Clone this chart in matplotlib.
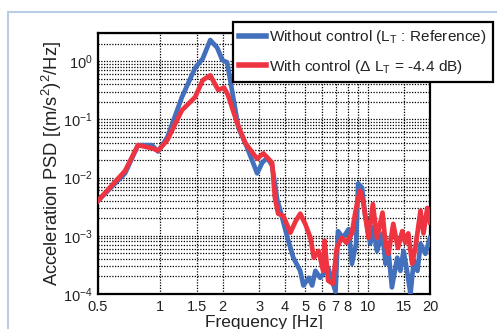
import matplotlib
matplotlib.use("Agg")
import matplotlib.pyplot as plt
from matplotlib.patches import Rectangle
from matplotlib.ticker import LogLocator, NullFormatter

plt.rcParams['font.family'] = ['Liberation Sans', 'DejaVu Sans']
plt.rcParams['mathtext.fontset'] = 'custom'
plt.rcParams['mathtext.rm'] = 'Liberation Sans'
plt.rcParams['mathtext.it'] = 'Liberation Sans:italic'
plt.rcParams['mathtext.bf'] = 'Liberation Sans:bold'

freq_without = [0.5, 0.675, 0.78, 0.91, 0.975, 1.08, 1.27, 1.47, 1.6, 1.74, 1.88, 1.99, 2.1,
                2.38, 2.62, 2.93, 3.1, 3.28, 3.46, 3.67, 3.76, 4.08, 4.38, 4.73, 4.9, 5.2,
                5.4, 5.6, 5.9, 6.45, 7.0, 7.2, 7.6, 8.1, 8.4, 8.8, 9.0, 9.4, 9.7, 10.3,
                10.6, 11.1, 11.8, 12.2, 12.6, 13.1, 13.9, 14.4, 14.9, 15.5, 16.1, 16.7,
                17.4, 18.0, 19.0, 20.0]
psd_without = [4.0e-3, 1.18e-2, 3.6e-2, 3.6e-2, 2.8e-2, 4.9e-2, 0.24, 0.76, 1.1, 2.3, 1.7, 1.04, 0.95,
               7.2e-2, 3.3e-2, 1.18e-2, 1.8e-2, 2.2e-2, 1.6e-2, 4.0e-3, 3.0e-3, 1.0e-3, 4.2e-4, 2.5e-4, 1.4e-4, 1.9e-4,
               1.4e-4, 2.5e-4, 1.9e-4, 2.8e-4, 1.1e-4, 1.2e-3, 9.2e-4, 1.3e-3, 3.3e-4, 7.3e-4, 7.9e-3, 6.7e-3, 2.4e-3, 7.3e-4,
               1.4e-3, 5.5e-4, 1.1e-3, 3.3e-4, 5.5e-4, 1.3e-4, 4.2e-4, 2.5e-4, 5.5e-4, 2.5e-4, 1.0e-4, 3.7e-4,
               2.5e-4, 7.3e-4, 4.9e-4, 9.2e-4]

freq_with = [0.5, 0.675, 0.78, 0.91, 0.975, 1.08, 1.27, 1.47, 1.6, 1.74, 1.9, 2.03, 2.12,
             2.35, 2.57, 2.93, 3.14, 3.46, 3.57, 3.7, 3.92, 4.24, 4.5, 4.73, 5.0, 5.3,
             5.5, 5.8, 6.1, 6.2, 6.45, 6.8, 7.1, 7.5, 7.9, 8.4, 8.7, 9.0, 9.2, 9.5,
             10.1, 10.6, 11.1, 11.8, 12.2, 12.6, 13.3, 14.0, 14.7, 15.2, 15.7, 16.4,
             17.0, 18.0, 18.6, 19.4, 20.0]
psd_with = [4.0e-3, 1.3e-2, 3.6e-2, 3.2e-2, 2.9e-2, 4.4e-2, 0.143, 0.24, 0.47, 0.57, 0.32, 0.35, 0.26,
            8.5e-2, 3.9e-2, 2.1e-2, 2.6e-2, 1.8e-2, 4.5e-3, 2.4e-3, 2.2e-3, 1.13e-3, 1.8e-3, 2.4e-3, 1.6e-3, 9.2e-4,
            4.2e-4, 5.5e-4, 2.5e-4, 8.2e-4, 1.7e-4, 1.5e-4, 6.2e-4, 9.2e-4, 7.6e-4, 1.1e-3, 2.4e-3, 4.5e-3, 5.9e-3, 4.0e-3,
            9.2e-4, 3.5e-3, 9.2e-4, 2.5e-3, 7.3e-4, 4.9e-4, 1.6e-3, 6.2e-4, 1.2e-3, 7.6e-4, 1.1e-3, 3.3e-4,
            6.2e-4, 2.7e-3, 1.1e-3, 3.0e-3, 1.7e-3]

x_ticks = [0.5, 1, 1.5, 2, 3, 4, 5, 6, 7, 8, 9, 10, 15, 20]
x_tick_labels = ['0.5', '1', '1.5', '2', '3', '4', '5', '6', '7', '8', '', '10', '15', '20']

label_without = 'Without control (L$_\\mathrm{T}$ : Reference)'
label_with = 'With control (\u0394 L$_\\mathrm{T}$ = -4.4 dB)'

W, H = 497, 329
fig = plt.figure(figsize=(W / 100, H / 100), dpi=100)
fig.patch.set_facecolor('white')

# outer light-blue frame
fig.patches.append(Rectangle((8 / W, -0.1), 1.2, 1 - 12 / H + 0.1, transform=fig.transFigure,
                             fill=False, edgecolor='#b9cde4', linewidth=1.5))

ax = fig.add_axes([98 / W, 1 - 294 / H, (430 - 98) / W, (294 - 33) / H])
ax.set_xscale('log')
ax.set_yscale('log')
ax.set_xlim(0.5, 20)
ax.set_ylim(1e-4, 3.04)

blue = '#4270bd'
red = '#ee3440'
ax.plot(freq_without, psd_without, color=blue, lw=3.4, solid_joinstyle='round', label=label_without, zorder=3)
ax.plot(freq_with, psd_with, color=red, lw=3.4, solid_joinstyle='round', label=label_with, zorder=4)

ax.set_xticks(x_ticks)
ax.set_xticklabels(x_tick_labels)
ax.xaxis.set_minor_formatter(NullFormatter())
ax.xaxis.set_minor_locator(plt.NullLocator())
ax.yaxis.set_major_locator(LogLocator(base=10, numticks=10))
ax.yaxis.set_minor_locator(LogLocator(base=10, subs=range(2, 10), numticks=20))
ax.yaxis.set_minor_formatter(NullFormatter())

ax.tick_params(which='both', length=0, labelsize=10.5, colors='#222222', pad=4)
ax.grid(True, which='major', axis='x', color='black', linestyle=(0, (1, 1.2)), linewidth=0.9)
ax.grid(True, which='both', axis='y', color='black', linestyle=(0, (1, 1.2)), linewidth=0.9)
for s in ax.spines.values():
    s.set_linewidth(1.6)
    s.set_color('black')

ax.set_xlabel('Frequency [Hz]', fontsize=12.5, color='#222222', labelpad=1)
ax.set_ylabel('Acceleration PSD [(m/s$^2$)$^2$/Hz]', fontsize=13.2, color='#222222', labelpad=-1)

leg = fig.legend(loc='upper left', bbox_to_anchor=(233 / W, 1 - 22 / H), bbox_transform=fig.transFigure,
                 fontsize=11.1, frameon=True, fancybox=False, framealpha=1, edgecolor='black',
                 handlelength=1.75, handletextpad=0.2, labelspacing=0.75, borderpad=0.4, borderaxespad=0)
leg.get_frame().set_linewidth(1.6)
for line in leg.get_lines():
    line.set_linewidth(4)
for t in leg.get_texts():
    t.set_color('#222222')

fig.savefig('out.png', dpi=100)
